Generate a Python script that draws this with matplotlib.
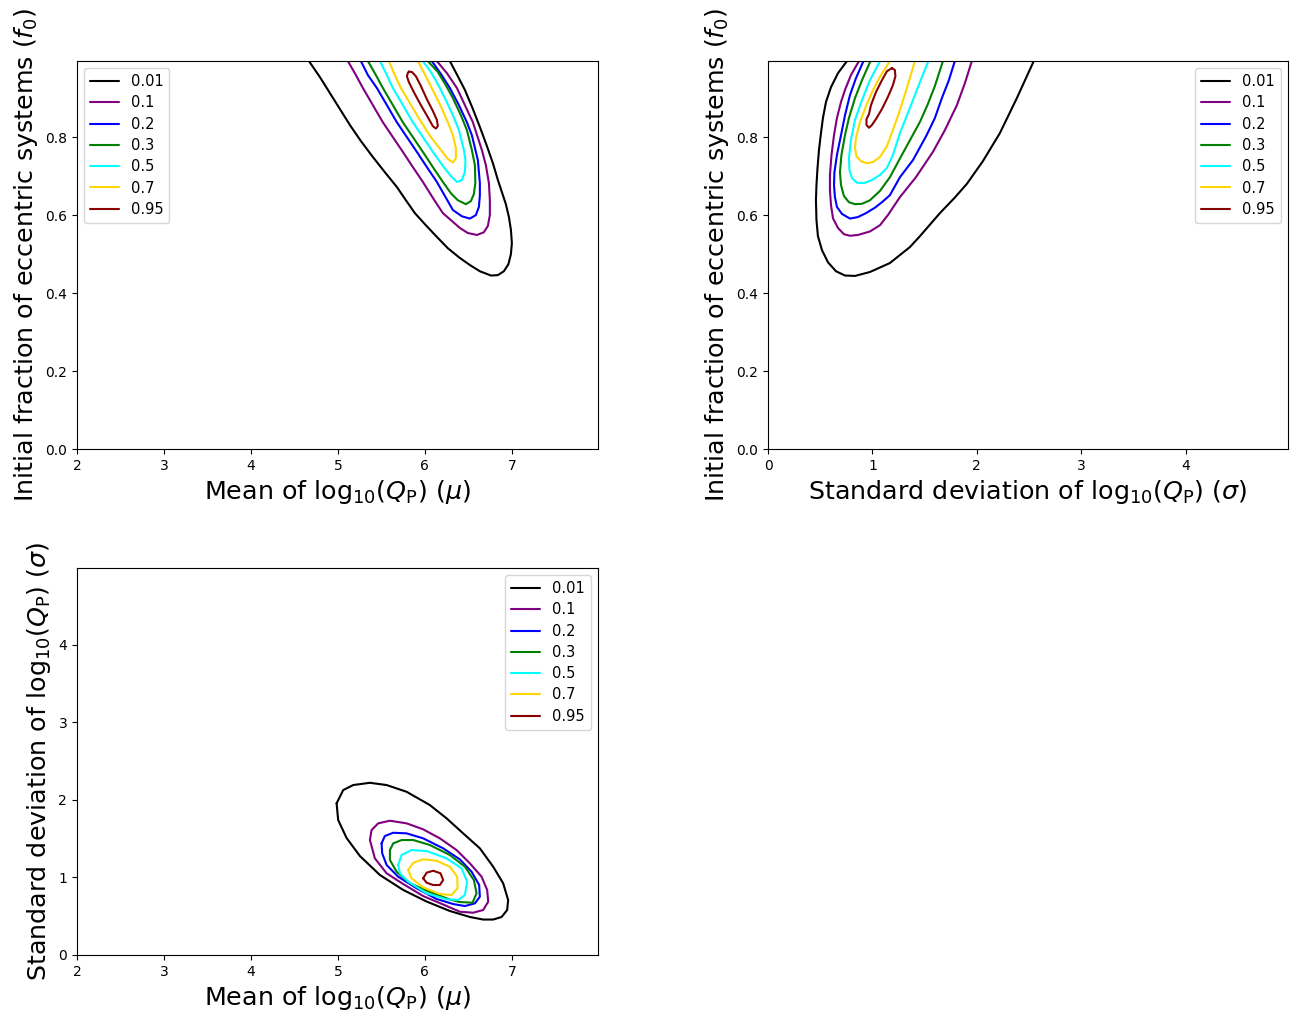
import matplotlib
matplotlib.use("Agg")
import matplotlib.pyplot as plt
import numpy as np

# contour levels and their colours
levels = ["0.01", "0.1", "0.2", "0.3", "0.5", "0.7", "0.95"]
colours = ["black", "purple", "blue", "green", "cyan", "gold", "darkred"]

# panel 1: mu (x) vs f0 (y), contour vertices
mu_f0_001 = [(4.667, 0.995), (4.793, 0.954), (4.908, 0.913), (5.023, 0.872), (5.138, 0.831),
             (5.264, 0.790), (5.402, 0.749), (5.540, 0.710), (5.678, 0.672), (5.782, 0.638),
             (5.885, 0.605), (6.011, 0.574), (6.138, 0.544), (6.264, 0.515), (6.402, 0.490),
             (6.517, 0.472), (6.632, 0.456), (6.759, 0.445), (6.839, 0.446), (6.908, 0.456),
             (6.960, 0.474), (6.989, 0.500), (7.000, 0.528), (6.989, 0.562), (6.966, 0.595),
             (6.931, 0.628), (6.897, 0.651), (6.839, 0.690), (6.782, 0.733), (6.713, 0.777),
             (6.632, 0.826), (6.552, 0.872), (6.460, 0.921), (6.379, 0.956), (6.287, 0.995)]
mu_f0_01 = [(5.115, 0.995), (5.207, 0.959), (5.287, 0.926), (5.402, 0.882), (5.517, 0.838),
            (5.632, 0.800), (5.747, 0.762), (5.862, 0.723), (5.977, 0.685), (6.115, 0.636),
            (6.207, 0.605), (6.310, 0.585), (6.402, 0.567), (6.494, 0.554), (6.598, 0.549),
            (6.678, 0.556), (6.724, 0.572), (6.747, 0.600), (6.747, 0.638), (6.736, 0.682),
            (6.701, 0.728), (6.655, 0.767), (6.552, 0.838), (6.460, 0.882), (6.368, 0.926),
            (6.253, 0.964), (6.138, 0.995)]
mu_f0_02 = [(5.264, 0.995), (5.345, 0.959), (5.448, 0.926), (5.563, 0.882), (5.678, 0.838),
            (5.793, 0.800), (5.908, 0.762), (6.023, 0.723), (6.138, 0.685), (6.230, 0.649),
            (6.322, 0.613), (6.425, 0.597), (6.517, 0.591), (6.586, 0.600), (6.621, 0.621),
            (6.632, 0.651), (6.632, 0.682), (6.609, 0.741), (6.540, 0.805), (6.483, 0.838),
            (6.391, 0.882), (6.287, 0.926), (6.184, 0.962), (6.080, 0.995)]
mu_f0_03 = [(5.345, 0.995), (5.437, 0.959), (5.517, 0.926), (5.632, 0.882), (5.747, 0.838),
            (5.862, 0.800), (5.977, 0.762), (6.092, 0.723), (6.207, 0.685), (6.299, 0.656),
            (6.379, 0.638), (6.471, 0.628), (6.529, 0.636), (6.563, 0.654), (6.580, 0.682),
            (6.575, 0.728), (6.540, 0.767), (6.483, 0.818), (6.414, 0.856), (6.322, 0.900),
            (6.241, 0.933), (6.149, 0.967), (6.034, 0.995)]
mu_f0_05 = [(5.483, 0.995), (5.563, 0.959), (5.632, 0.926), (5.747, 0.882), (5.862, 0.838),
            (5.977, 0.800), (6.092, 0.762), (6.207, 0.726), (6.299, 0.700), (6.368, 0.685),
            (6.425, 0.690), (6.460, 0.710), (6.466, 0.741), (6.448, 0.767), (6.391, 0.818),
            (6.322, 0.856), (6.241, 0.895), (6.161, 0.931), (6.069, 0.967), (5.977, 0.995)]
mu_f0_07 = [(5.586, 0.995), (5.655, 0.959), (5.724, 0.926), (5.828, 0.887), (5.943, 0.844),
            (6.069, 0.800), (6.184, 0.767), (6.264, 0.744), (6.322, 0.735), (6.356, 0.746),
            (6.356, 0.772), (6.322, 0.805), (6.264, 0.838), (6.184, 0.879), (6.103, 0.915),
            (6.011, 0.956), (5.920, 0.995)]
mu_f0_095 = [(5.816, 0.968), (5.851, 0.967), (5.897, 0.956), (5.954, 0.931), (6.023, 0.897),
             (6.092, 0.867), (6.138, 0.844), (6.149, 0.828), (6.126, 0.822), (6.092, 0.828),
             (6.034, 0.851), (5.954, 0.882), (5.874, 0.915), (5.816, 0.941), (5.793, 0.956),
             (5.805, 0.965), (5.816, 0.968)]

# panel 2: sigma (x) vs f0 (y)
sig_f0_001 = [(0.756, 0.995), (0.670, 0.964), (0.603, 0.928), (0.555, 0.890), (0.526, 0.849),
              (0.507, 0.810), (0.488, 0.767), (0.474, 0.721), (0.464, 0.677), (0.459, 0.638),
              (0.464, 0.587), (0.478, 0.546), (0.517, 0.510), (0.574, 0.479), (0.651, 0.456),
              (0.737, 0.445), (0.833, 0.444), (0.976, 0.454), (1.167, 0.477), (1.359, 0.518),
              (1.455, 0.546), (1.646, 0.605), (1.789, 0.645), (1.904, 0.680), (2.057, 0.738),
              (2.220, 0.810), (2.383, 0.900), (2.545, 0.995)]
sig_f0_01 = [(0.871, 0.995), (0.794, 0.959), (0.737, 0.921), (0.699, 0.890), (0.660, 0.849),
             (0.632, 0.805), (0.608, 0.754), (0.593, 0.703), (0.593, 0.664), (0.603, 0.626),
             (0.622, 0.592), (0.670, 0.567), (0.727, 0.551), (0.785, 0.547), (0.861, 0.549),
             (0.976, 0.558), (1.072, 0.574), (1.148, 0.600), (1.263, 0.646), (1.416, 0.697),
             (1.579, 0.762), (1.694, 0.818), (1.809, 0.882), (1.885, 0.938), (1.952, 0.995)]
sig_f0_02 = [(0.914, 0.995), (0.842, 0.951), (0.785, 0.908), (0.737, 0.856), (0.699, 0.805),
             (0.660, 0.754), (0.636, 0.710), (0.632, 0.677), (0.641, 0.646), (0.660, 0.621),
             (0.708, 0.603), (0.785, 0.591), (0.861, 0.595), (0.938, 0.605), (1.024, 0.619),
             (1.091, 0.633), (1.167, 0.651), (1.263, 0.697), (1.388, 0.741), (1.519, 0.805),
             (1.598, 0.849), (1.665, 0.900), (1.732, 0.946), (1.789, 0.995)]
sig_f0_03 = [(0.981, 0.995), (0.900, 0.946), (0.833, 0.900), (0.775, 0.849), (0.737, 0.805),
             (0.703, 0.754), (0.689, 0.710), (0.699, 0.677), (0.727, 0.649), (0.775, 0.633),
             (0.833, 0.628), (0.900, 0.629), (0.976, 0.638), (1.072, 0.662), (1.167, 0.697),
             (1.263, 0.745), (1.359, 0.792), (1.455, 0.839), (1.531, 0.885), (1.598, 0.931),
             (1.675, 0.995)]
sig_f0_05 = [(1.072, 0.995), (0.976, 0.946), (0.900, 0.895), (0.833, 0.844), (0.794, 0.792),
             (0.775, 0.746), (0.780, 0.715), (0.804, 0.695), (0.852, 0.683), (0.919, 0.682),
             (0.995, 0.690), (1.072, 0.703), (1.139, 0.721), (1.196, 0.754), (1.263, 0.810),
             (1.340, 0.862), (1.407, 0.908), (1.474, 0.954), (1.536, 0.995)]
sig_f0_07 = [(1.167, 0.995), (1.081, 0.959), (1.005, 0.921), (0.938, 0.879), (0.880, 0.838),
             (0.842, 0.797), (0.833, 0.772), (0.847, 0.751), (0.890, 0.738), (0.947, 0.733),
             (1.005, 0.736), (1.072, 0.749), (1.139, 0.777), (1.196, 0.818), (1.263, 0.869),
             (1.330, 0.926), (1.407, 0.995)]
sig_f0_095 = [(1.187, 0.977), (1.215, 0.972), (1.220, 0.956), (1.196, 0.933), (1.148, 0.903),
              (1.091, 0.872), (1.033, 0.846), (0.995, 0.831), (0.967, 0.824), (0.943, 0.831),
              (0.943, 0.846), (0.967, 0.859), (0.986, 0.882), (1.033, 0.915), (1.091, 0.946),
              (1.139, 0.969), (1.187, 0.977)]

# panel 3: mu (x) vs sigma (y), closed contours
mu_sig_001 = [(4.985, 1.955), (5.061, 2.126), (5.176, 2.191), (5.368, 2.220), (5.560, 2.191),
              (5.790, 2.104), (6.057, 1.933), (6.249, 1.762), (6.440, 1.568), (6.632, 1.375),
              (6.785, 1.138), (6.900, 0.924), (6.957, 0.709), (6.946, 0.580), (6.882, 0.490),
              (6.785, 0.457), (6.670, 0.457), (6.517, 0.490), (6.287, 0.567), (6.020, 0.689),
              (5.751, 0.838), (5.483, 1.031), (5.253, 1.276), (5.100, 1.508), (5.003, 1.740)]
mu_sig_01 = [(5.368, 1.482), (5.387, 1.611), (5.463, 1.697), (5.598, 1.731), (5.790, 1.697),
             (5.980, 1.620), (6.172, 1.504), (6.364, 1.353), (6.517, 1.182), (6.652, 1.009),
             (6.716, 0.838), (6.728, 0.687), (6.670, 0.580), (6.555, 0.545), (6.402, 0.558),
             (6.210, 0.651), (5.980, 0.760), (5.751, 0.915), (5.560, 1.053), (5.425, 1.246)]
mu_sig_02 = [(5.502, 1.439), (5.540, 1.534), (5.636, 1.576), (5.790, 1.568), (5.980, 1.504),
             (6.210, 1.375), (6.402, 1.233), (6.537, 1.073), (6.624, 0.902), (6.632, 0.751),
             (6.575, 0.666), (6.460, 0.631), (6.325, 0.657), (6.134, 0.722), (5.905, 0.860),
             (5.693, 1.009), (5.560, 1.160), (5.509, 1.311)]
mu_sig_03 = [(5.598, 1.353), (5.636, 1.439), (5.732, 1.482), (5.866, 1.482), (6.057, 1.418),
             (6.287, 1.289), (6.460, 1.138), (6.563, 0.966), (6.594, 0.795), (6.548, 0.674),
             (6.402, 0.683), (6.287, 0.715), (6.057, 0.812), (5.828, 0.924), (5.675, 1.073),
             (5.598, 1.224)]
mu_sig_05 = [(5.693, 1.160), (5.732, 1.289), (5.847, 1.353), (6.020, 1.340), (6.249, 1.246),
             (6.422, 1.117), (6.486, 0.945), (6.460, 0.773), (6.383, 0.709), (6.249, 0.718),
             (6.020, 0.795), (5.808, 0.945), (5.713, 1.053)]
mu_sig_07 = [(5.808, 1.095), (5.866, 1.189), (5.980, 1.233), (6.134, 1.215), (6.287, 1.138),
             (6.371, 1.009), (6.376, 0.860), (6.307, 0.773), (6.172, 0.786), (5.980, 0.872),
             (5.847, 0.988)]
mu_sig_095 = [(5.980, 0.988), (6.020, 1.061), (6.095, 1.086), (6.180, 1.053), (6.210, 0.966),
              (6.172, 0.902), (6.095, 0.902), (6.020, 0.932)]

panel1 = [mu_f0_001, mu_f0_01, mu_f0_02, mu_f0_03, mu_f0_05, mu_f0_07, mu_f0_095]
panel2 = [sig_f0_001, sig_f0_01, sig_f0_02, sig_f0_03, sig_f0_05, sig_f0_07, sig_f0_095]
panel3 = [mu_sig_001, mu_sig_01, mu_sig_02, mu_sig_03, mu_sig_05, mu_sig_07, mu_sig_095]

mu_label = r'Mean of $\mathrm{log}_{10}(Q_{\mathrm{P}})$ $(\mu)$'
sig_label = r'Standard deviation of $\mathrm{log}_{10}(Q_{\mathrm{P}})$ $(\sigma)$'
f0_label = r'Initial fraction of eccentric systems $(f_0)$'

fig = plt.figure(figsize=(12.91, 10.18), dpi=100)
ax1 = fig.add_axes([0.0596, 0.5589, 0.4036, 0.3811])
ax2 = fig.add_axes([0.5949, 0.5589, 0.4028, 0.3811])
ax3 = fig.add_axes([0.0596, 0.0619, 0.4036, 0.3802])


def draw(ax, paths, closed):
    for path, lev, col in zip(paths, levels, colours):
        pts = np.array(path)
        if closed:
            pts = np.vstack([pts, pts[:1]])
        ax.plot(pts[:, 0], pts[:, 1], color=col, lw=1.5, label=lev,
                solid_joinstyle='round', solid_capstyle='round')


draw(ax1, panel1, False)
draw(ax2, panel2, False)
draw(ax3, panel3, True)

ax1.set_xlim(2, 7.99)
ax1.set_ylim(0, 0.995)
ax1.set_xticks([2, 3, 4, 5, 6, 7])
ax1.set_yticks([0.0, 0.2, 0.4, 0.6, 0.8])
ax1.set_xlabel(mu_label, fontsize=18.3)
ax1.set_ylabel(f0_label, fontsize=18.3)
ax1.legend(loc='upper left', fontsize=10.5, labelspacing=0.43)

ax2.set_xlim(0, 4.98)
ax2.set_ylim(0, 0.995)
ax2.set_xticks([0, 1, 2, 3, 4])
ax2.set_yticks([0.0, 0.2, 0.4, 0.6, 0.8])
ax2.set_xlabel(sig_label, fontsize=18.3)
ax2.set_ylabel(f0_label, fontsize=18.3)
ax2.legend(loc='upper right', fontsize=10.5, labelspacing=0.43)

ax3.set_xlim(2, 7.99)
ax3.set_ylim(0, 4.99)
ax3.set_xticks([2, 3, 4, 5, 6, 7])
ax3.set_yticks([0, 1, 2, 3, 4])
ax3.set_xlabel(mu_label, fontsize=18.3)
ax3.set_ylabel(sig_label, fontsize=18.3)
ax3.legend(loc='upper right', fontsize=10.5, labelspacing=0.43)

fig.savefig("out.png", dpi=100)
